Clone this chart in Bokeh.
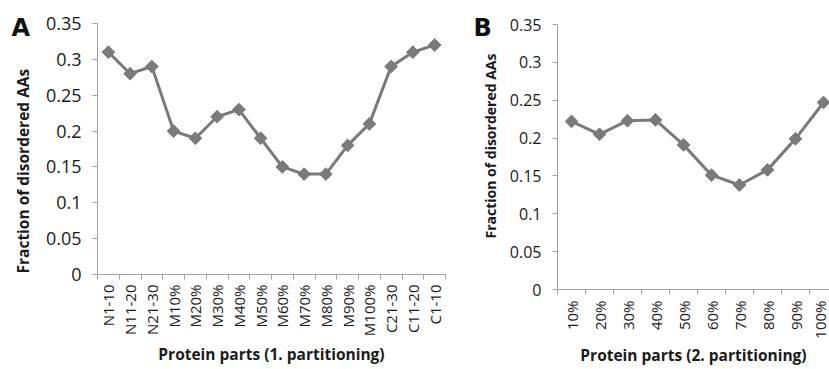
import math
from bokeh.plotting import figure
from bokeh.layouts import row, column
from bokeh.models import FixedTicker, Range1d, Title
from bokeh.embed import file_html
from bokeh.resources import INLINE

# ---- data ----
cats_a = ["N1-10", "N11-20", "N21-30", "M10%", "M20%", "M30%", "M40%", "M50%",
          "M60%", "M70%", "M80%", "M90%", "M100%", "C21-30", "C11-20", "C1-10"]
vals_a = [0.31, 0.28, 0.29, 0.20, 0.19, 0.22, 0.23, 0.19,
          0.15, 0.14, 0.14, 0.18, 0.21, 0.29, 0.31, 0.32]

cats_b = ["10%", "20%", "30%", "40%", "50%", "60%", "70%", "80%", "90%", "100%"]
vals_b = [0.222, 0.205, 0.223, 0.224, 0.191, 0.151, 0.138, 0.158, 0.199, 0.247]

y_ticks = [0, 0.05, 0.1, 0.15, 0.2, 0.25, 0.3, 0.35]
y_tick_labels = ["0", "0.05", "0.1", "0.15", "0.2", "0.25", "0.3", "0.35"]

y_title = "Fraction of disordered AAs"
x_title_a = "Protein parts (1. partitioning)"
x_title_b = "Protein parts (2. partitioning)"

LINE = "#7a7a7a"
AXIS = "#a3a3a3"
FONT = "Open Sans"
TXT = "#1a1a1a"


def make_panel(cats, vals, width, height, borders, x_end, tick_fs_x, tick_fs_y,
               x_label_standoff, letter, letter_off, letter_standoff,
               ytitle_off, ytitle_standoff, ytitle_fs,
               xtitle, xtitle_standoff, xtitle_fs):
    n = len(cats)
    centers = [i + 0.5 for i in range(n)]
    p = figure(width=width, height=height, output_backend="svg", toolbar_location=None,
               x_range=Range1d(0, x_end), y_range=Range1d(0, 0.35))
    p.min_border_left, p.min_border_right, p.min_border_top, p.min_border_bottom = borders
    p.outline_line_color = None
    p.xgrid.visible = False
    p.ygrid.visible = False
    p.background_fill_color = "white"
    p.border_fill_color = "white"

    xa = p.xaxis[0]
    xa.ticker = FixedTicker(ticks=centers, minor_ticks=list(range(n + 1)))
    xa.major_label_overrides = {c: lab for c, lab in zip(centers, cats)}
    xa.major_label_orientation = math.pi / 2
    xa.axis_line_color = AXIS
    xa.major_tick_line_color = None
    xa.major_tick_out = 5
    xa.major_tick_in = 0
    xa.minor_tick_line_color = AXIS
    xa.minor_tick_out = 5
    xa.minor_tick_in = 0
    xa.major_label_standoff = x_label_standoff
    xa.major_label_text_font = FONT
    xa.major_label_text_font_size = tick_fs_x
    xa.major_label_text_color = TXT
    xa.axis_label = xtitle
    xa.axis_label_standoff = xtitle_standoff
    xa.axis_label_text_font = FONT
    xa.axis_label_text_font_style = "bold"
    xa.axis_label_text_font_size = xtitle_fs
    xa.axis_label_text_color = TXT

    ya = p.yaxis[0]
    ya.ticker = FixedTicker(ticks=y_ticks, minor_ticks=[])
    ya.major_label_overrides = {t: lab for t, lab in zip(y_ticks, y_tick_labels)}
    ya.axis_line_color = AXIS
    ya.major_tick_line_color = AXIS
    ya.major_tick_out = 5
    ya.major_tick_in = 0
    ya.minor_tick_line_color = None
    ya.major_label_standoff = 11
    ya.major_label_text_font = FONT
    ya.major_label_text_font_size = tick_fs_y
    ya.major_label_text_color = TXT

    p.line(centers, vals, line_color=LINE, line_width=3)
    p.scatter(centers, vals, marker="square", angle=math.pi / 4, size=9,
              fill_color=LINE, line_color=LINE)

    # panel letter
    p.title.text = letter
    p.title.align = "left"
    p.title.offset = letter_off
    p.title.standoff = letter_standoff
    p.title.vertical_align = "bottom"
    p.title.text_font = "DejaVu Sans"
    p.title.text_font_style = "bold"
    p.title.text_font_size = "24px"
    p.title.text_color = "#111111"

    p.add_layout(Title(text=y_title, align="left", offset=ytitle_off,
                       standoff=ytitle_standoff, vertical_align="bottom",
                       text_font=FONT, text_font_style="bold",
                       text_font_size=ytitle_fs, text_color=TXT), "left")
    return p


pa = make_panel(cats_a, vals_a, 460, 369, (96, 15, 23, 95), 16, "15px", "18px", 5,
                "A", -86, -36, 1, 18, "15.5px",
                x_title_a, 4, "15.5px")
pb = make_panel(cats_b, vals_b, 369, 369, (97, 0, 24, 80), 272 / 28, "15px", "16px", 6,
                "B", -84, -34, 51, 14, "14px",
                x_title_b, 2, "15.5px")

layout = row(column(pa), column(pb))
open("out.html", "w").write(file_html(layout, INLINE))
